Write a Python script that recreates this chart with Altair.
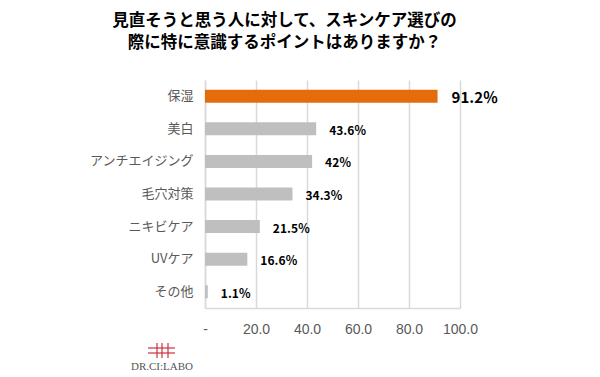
import altair as alt
import pandas as pd

categories = ["保湿", "美白", "アンチエイジング", "毛穴対策", "ニキビケア", "UVケア", "その他"]
values = [91.2, 43.6, 42, 34.3, 21.5, 16.6, 1.1]
labels = ["91.2％", "43.6％", "42％", "34.3％", "21.5％", "16.6％", "1.1％"]
highlight = [True, False, False, False, False, False, False]

df = pd.DataFrame({"cat": categories, "val": values, "lab": labels, "hi": highlight})

FONT = "Noto Sans CJK JP"

y = alt.Y("cat:N", sort=categories, title=None,
          scale=alt.Scale(paddingInner=0.6, paddingOuter=0.3),
          axis=alt.Axis(labelFont=FONT, labelFontSize=13, labelColor="#595959",
                        labelPadding=12, ticks=False, domainColor="#d9d9d9",
                        domainWidth=1.5, grid=False))
x = alt.X("val:Q", title=None, scale=alt.Scale(domain=[0, 100], nice=False),
          axis=alt.Axis(values=[0, 20, 40, 60, 80, 100], labelFont="Liberation Sans",
                        labelFontSize=14, labelColor="#595959", labelPadding=14,
                        labelFlush=False, labelOverlap=False,
                        ticks=False, domainColor="#d9d9d9", domainWidth=1.5,
                        gridColor="#d9d9d9", gridWidth=1.5,
                        labelExpr="datum.value == 0 ? '-' : format(datum.value, '.1f')"))

bars = alt.Chart(df).mark_bar().encode(
    y=y, x=x,
    color=alt.Color("hi:N", scale=alt.Scale(domain=[True, False], range=["#E46C0A", "#BFBFBF"]), legend=None),
)

txt_small = alt.Chart(df).transform_filter("!datum.hi").mark_text(
    align="left", dx=13, dy=2, font=FONT, fontSize=12, fontWeight="bold", color="#000000"
).encode(y=alt.Y("cat:N", sort=categories), x="val:Q", text="lab:N")

txt_big = alt.Chart(df).transform_filter("datum.hi").mark_text(
    align="left", dx=14, dy=2, font=FONT, fontSize=15, fontWeight="bold", color="#000000"
).encode(y=alt.Y("cat:N", sort=categories), x="val:Q", text="lab:N")

# logo
logo_text = alt.Chart(pd.DataFrame({"t": ["DR.CI:LABO"]})).mark_text(
    font="Liberation Serif", fontSize=11, color="#555555", align="center", baseline="middle"
).encode(x=alt.value(-43), y=alt.value(287), text="t:N")
hlines = alt.Chart(pd.DataFrame({"yy": [268, 273]})).mark_rule(color="#C8323C", strokeWidth=1.2).encode(
    x=alt.value(-57), x2=alt.value(-30), y=alt.Y("yy:Q", scale=None))
vlines = alt.Chart(pd.DataFrame({"xx": [-48, -43, -37]})).mark_rule(color="#C8323C", strokeWidth=1.2).encode(
    x=alt.X("xx:Q", scale=None), y=alt.value(263), y2=alt.value(278))

chart = alt.layer(bars, txt_small, txt_big).resolve_scale(x="shared")
chart = alt.layer(chart, hlines, vlines, logo_text).properties(
    width=255, height=228,
    padding={"left": 205, "top": 80, "right": 140, "bottom": 69},
    autosize="none",
    title=alt.TitleParams(
        ["見直そうと思う人に対して、スキンケア選びの", "際に特に意識するポイントはありますか？"],
        font=FONT, fontSize=16.5, fontWeight="bold", color="#000000",
        anchor="middle", dx=-48, offset=29, lineHeight=22,
    ),
).configure_view(stroke=None)

chart.save("out.html", embed_options={"renderer": "svg", "actions": False})
